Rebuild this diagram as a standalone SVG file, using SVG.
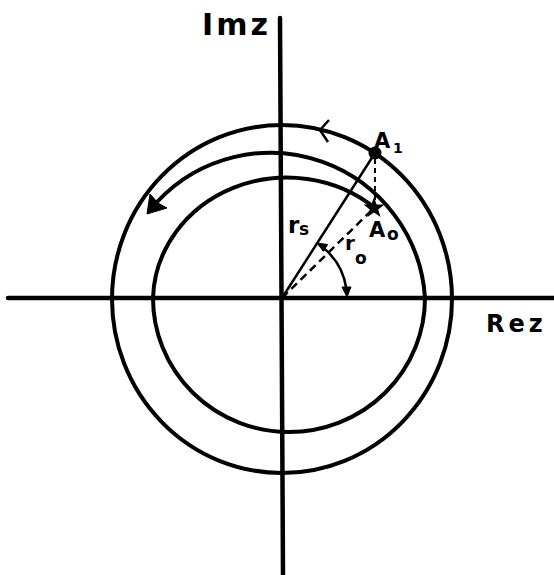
<svg xmlns="http://www.w3.org/2000/svg" width="554" height="575" viewBox="0 0 554 575">
  <style>
    .ax { stroke: #000; stroke-width: 4.5; fill: none; stroke-linecap: round; }
    .cv { stroke: #000; stroke-width: 4; fill: none; stroke-linecap: round; }
    .ln { stroke: #000; stroke-width: 2.5; fill: none; }
    .dash { stroke: #000; stroke-width: 2.5; fill: none; stroke-dasharray: 8 5; }
    .dash2 { stroke: #000; stroke-width: 2; fill: none; stroke-dasharray: 5 4; }
    .hd { fill: #000; stroke: #000; stroke-width: 1; stroke-linejoin: round; }
    .lbl { font-family: "DejaVu Sans", "Liberation Sans", sans-serif; font-weight: bold; fill: #000; }
  </style>
  <rect width="554" height="575" fill="#fff"/>

  <g id="axes">
    <line class="ax" x1="8" y1="298" x2="554" y2="298"/>
    <line class="ax" x1="280" y1="18" x2="283" y2="575"/>
  </g>

  <g id="outer-circle">
    <ellipse class="cv" cx="282" cy="299" rx="170" ry="174"/>
    <polyline class="ln" points="329,120 320,130 328,142" stroke-width="3.5"/>
  </g>

  <g id="spiral">
    <path class="cv" d="M 375 208 A 134 124 0 0 0 153 298 A 136 134 0 0 0 425 298 A 155 155 0 0 0 157 202"/>
    <polygon class="hd" points="147,214 150,194 158,203 167,208"/>
  </g>

  <g id="connectors">
    <line class="ln" x1="282" y1="298" x2="375" y2="153"/>
    <line class="dash" x1="282" y1="298" x2="372" y2="210"/>
    <line class="dash2" x1="375" y1="159" x2="375" y2="202"/>
    <path class="ln" d="M 322 246.8 A 65 65 0 0 1 346.4 289"/>
    <polygon class="hd" points="317,243 327.7,244.5 323.3,251.3"/>
    <polygon class="hd" points="347,297 342,287 351,287"/>
  </g>

  <g id="A1">
    <circle cx="375" cy="153" r="6.5" fill="#000"/>
    <text class="lbl" x="374" y="148" font-size="21">A</text>
    <text class="lbl" x="393" y="153" font-size="14">1</text>
  </g>

  <g id="A0">
    <polygon fill="#000" points="374,197 376.6,204.4 384.5,204.6 378.2,209.4 380.5,216.9 374,212.4 367.5,216.9 369.8,209.4 363.5,204.6 371.4,204.4"/>
    <text class="lbl" x="369" y="237" font-size="21">A</text>
    <text class="lbl" x="387" y="240" font-size="17">o</text>
  </g>

  <g id="rs">
    <text class="lbl" x="288" y="233" font-size="23">r</text>
    <text class="lbl" x="299" y="235" font-size="17">s</text>
  </g>

  <g id="r0">
    <text class="lbl" x="345" y="250" font-size="20">r</text>
    <text class="lbl" x="355" y="264" font-size="17">o</text>
  </g>

  <g id="labels">
    <text class="lbl" x="202" y="35" font-size="30" letter-spacing="3">Imz</text>
    <text class="lbl" x="486" y="332" font-size="24" letter-spacing="4">Rez</text>
  </g>
</svg>
